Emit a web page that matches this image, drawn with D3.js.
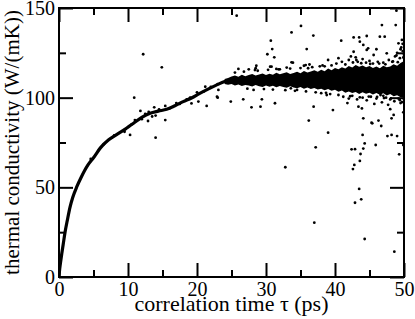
<!DOCTYPE html>
<html><head><meta charset="utf-8">
<script src="https://cdn.jsdelivr.net/npm/d3@7"></script>
<style>
html,body{margin:0;padding:0;background:#fff;}
svg{display:block;}
text{font-family:"Liberation Serif","Times New Roman",serif;fill:#000;}
</style></head>
<body>
<svg id="chart" width="415" height="319"></svg>
<script>
// ---- data ----
const xMajorTicks = [0, 10, 20, 30, 40, 50];
const xMinorTicks = [5, 15, 25, 35, 45];
const yMajorTicks = [0, 50, 100, 150];
const yMinorTicks = [25, 75, 125];
const xLabel = "correlation time τ (ps)";
const yLabel = "thermal conductivity (W/(mK))";

// running-average curve (dense part of the data)
const curveTime  = [0, 0.1, 0.2, 0.4, 0.6, 0.9, 1.2, 1.6, 2.0, 2.6, 3.2, 4.2, 5.0, 6.0, 7.2, 8.4, 9.6, 10.8, 12, 13.2, 14.4, 15.6, 16.8, 18, 19.2, 20.4, 21.6, 22.8, 24, 25, 26, 28, 30, 32, 34, 36, 38, 40, 42, 44, 46, 48, 50];
const curveKappa = [0, 4.5, 7.5, 13, 18, 25.5, 31.5, 39, 44.5, 50.5, 55.5, 62.5, 66.5, 72, 76.5, 79.5, 82.5, 85.7, 89, 91.3, 92.5, 93.5, 95.5, 97.8, 99.8, 102.4, 104.8, 107, 109, 109.8, 110, 110.3, 110.3, 110.5, 110.4, 110.3, 110.2, 110.3, 110.6, 110.7, 110.4, 110, 109.6];

// dense noisy band (upper / lower edge of the black cloud)
const bandTime = [24, 24.5, 25, 25.5, 26, 26.5, 27, 27.5, 28, 28.5, 29, 29.5, 30, 30.5, 31, 31.5, 32, 32.5, 33, 33.5, 34, 34.5, 35, 35.5, 36, 36.5, 37, 37.5, 38, 38.5, 39, 39.5, 40, 40.5, 41, 41.5, 42, 42.5, 43, 43.5, 44, 44.5, 45, 45.5, 46, 46.5, 47, 47.5, 48, 48.5, 49, 49.5, 50];
const bandHigh = [110.4, 111.0, 111.8, 112.4, 111.7, 112.8, 112.0, 112.6, 113.2, 112.3, 112.9, 113.5, 112.6, 113.4, 112.8, 113.9, 113.0, 113.6, 114.2, 113.2, 113.8, 114.5, 113.6, 114.9, 114.0, 114.6, 115.3, 114.4, 115.6, 114.8, 116.2, 115.3, 116.6, 115.8, 117.0, 116.2, 117.6, 116.8, 118.2, 117.2, 118.0, 116.9, 117.6, 116.6, 117.4, 116.4, 117.8, 116.9, 117.4, 118.6, 117.8, 119.4, 120.5];
const bandLow  = [107.6, 107.2, 107.6, 106.8, 107.4, 106.5, 107.1, 106.8, 106.2, 107.0, 106.4, 106.0, 106.8, 106.1, 106.6, 105.8, 106.5, 105.9, 105.5, 106.3, 105.6, 105.2, 105.9, 105.0, 105.6, 104.9, 105.4, 104.5, 105.0, 104.2, 104.8, 103.8, 104.4, 103.3, 104.0, 102.8, 103.5, 102.6, 103.2, 102.0, 103.0, 102.2, 102.8, 101.8, 102.6, 101.6, 102.4, 101.2, 102.0, 100.8, 101.4, 100.2, 100.0];

// individual scattered points
const scatterTime = [
  25.75, 35.07, 33.7, 36.86, 30.7, 30.9, 30.2, 31.2, 35.9, 33.7, 28.6, 28.4, 30.6, 31.5, 40.9, 46.8, 48.8, 48.9,
  42.7, 43.5, 44.6, 46.5, 47.2, 43.6, 44.1, 44.8, 46.0, 47.5, 49.2, 49.7, 42.7, 44.6, 45.6, 48.9, 43.1,
  12.2, 14.9, 10.9, 21.2, 23.1, 26.0, 35.5, 36.3, 37.8, 27.5, 33.0, 28.5, 30.8, 31.8, 33.9, 35.75, 36.1,
  10.3, 14.0, 11.8, 15.4, 21.4, 24.9, 23.0, 11.0, 13.8, 15.4, 12.9, 22.9, 19.2, 20.2,
  28.2, 26.7, 27.9, 29.2, 29.4, 31.3, 33.6, 34.5, 36.9, 36.2, 39.0, 39.7, 38.8,
  43.4, 43.9, 44.1, 45.3, 46.3, 46.8, 48.0, 48.2, 48.5, 44.0, 48.2, 49.0, 49.9, 37.2, 37.0,
  45.4, 46.7, 44.3, 45.9, 42.4, 42.9, 44.1, 43.7, 43.6, 42.8, 42.6, 49.3, 49.9, 43.5, 43.8, 42.9, 44.3, 48.6,
  32.8, 47.6, 47.0, 49.5,
  6.5, 8.0, 9.5, 10.5, 12.0, 12.5, 13.0, 14.0, 14.5, 16.0, 17.0, 18.5, 19.0, 20.0, 21.0, 22.0, 23.0, 17.5, 13.5, 4.6,
  38.5, 39.5, 40.2, 41.0, 41.5, 42.0, 42.3, 43.0, 43.3, 44.0, 44.5, 45.0, 45.5, 46.2, 47.0, 47.8, 48.3, 48.7, 49.0, 49.4, 49.8, 50.0, 49.6, 39.0, 40.5,
  38.0, 39.3, 40.5, 41.2, 42.0, 42.5, 43.2, 44.0, 44.6, 45.2, 46.0, 46.6, 47.4, 48.0, 48.6, 49.2, 49.7, 50.0, 41.8, 45.7, 47.7,
  25.5, 26.8, 27.3, 28.8, 29.7, 30.3, 31.0, 32.0, 32.8, 33.5, 34.2, 35.0, 35.8, 36.7, 37.2, 38.2, 38.7,
  42.6, 43.8, 45.1, 46.4, 47.3, 48.4, 49.1, 49.9, 42.2, 43.6, 44.9, 46.1, 47.1, 48.1, 49.4, 50.0, 49.8, 49.5
];
const scatterKappa = [
  145.7, 140, 136.4, 134.6, 131.8, 127.1, 124.2, 122.5, 127.1, 119.7, 117.8, 115.4, 117.3, 116, 131.8, 140.5, 140.5, 148.5,
  133.6, 133.6, 134.4, 134, 134, 131.2, 129.4, 127.5, 127, 124.7, 130.3, 132.2, 125.6, 126.6, 123.8, 123.5, 121,
  124.2, 116.9, 100, 106.1, 104.3, 116, 117.8, 118.5, 117.5, 115.8, 116.8, 116.4, 117.3, 115.8, 119.5, 118.2, 116.4,
  79.2, 77.7, 92.6, 95.4, 95.4, 97.8, 100, 87.5, 94.6, 87.5, 87, 100.5, 96.8, 97.8,
  104.3, 99.1, 94.6, 95, 99.1, 96.9, 105.2, 104.3, 95, 87.2, 80.5, 93.1, 101.5,
  95, 94, 88.5, 86, 87.2, 97.4, 93.6, 88.5, 90.4, 79.2, 79.2, 78.6, 91.8, 72.3, 30.3,
  85.7, 84.2, 74.5, 73.6, 71.2, 71.3, 71.6, 68.6, 64.7, 62.5, 60.2, 68.4, 73.6, 49.1, 43.3, 41.4, 21.2, 14.1,
  61.2, 78.6, 101, 97,
  74, 79, 81, 85, 88, 91, 92, 90, 93.5, 94, 97, 99, 100, 103, 103.5, 106, 107.5, 96.5, 89.5, 65.8,
  117.5, 118, 119, 120, 118.5, 121, 123, 122.5, 120, 121.5, 119.5, 120.5, 119, 120, 119.5, 121, 120, 123, 125, 122, 126, 124, 128, 121, 122,
  102.5, 102, 101.5, 100.5, 99.5, 101, 99, 100, 98.5, 100.5, 99.5, 101.5, 100, 99, 98, 99.5, 97.5, 99, 97, 96.5, 96,
  114, 114.5, 105, 115, 104.8, 115.5, 104.5, 115.8, 104.2, 116.2, 103.8, 116.5, 103.5, 117, 103, 118, 102.7,
  119.6, 119.2, 118.8, 119.0, 118.6, 120.2, 119.8, 122.4, 100.8, 100.2, 100.6, 100.4, 99.8, 99.6, 98.6, 101.2, 130, 127
];

// ---- drawing ----
const m = {left: 59, right: 404, top: 8, bottom: 277};
const x = d3.scaleLinear().domain([0, 50]).range([m.left, m.right]);
const y = d3.scaleLinear().domain([0, 150]).range([m.bottom, m.top]);
const svg = d3.select("#chart");

svg.append("defs").append("clipPath").attr("id", "clip")
  .append("rect").attr("x", m.left).attr("y", m.top)
  .attr("width", m.right - m.left).attr("height", m.bottom - m.top);
const plot = svg.append("g").attr("clip-path", "url(#clip)");

// band area
const band = bandTime.map((t, i) => ({t, hi: bandHigh[i], lo: bandLow[i]}));
plot.append("path").datum(band)
  .attr("d", d3.area().x(d => x(d.t)).y0(d => y(d.lo)).y1(d => y(d.hi)))
  .attr("fill", "#000");

// curve
const curve = curveTime.map((t, i) => ({t, k: curveKappa[i]}));
plot.append("path").datum(curve)
  .attr("d", d3.line().x(d => x(d.t)).y(d => y(d.k)).curve(d3.curveMonotoneX))
  .attr("fill", "none").attr("stroke", "#000").attr("stroke-width", 3.2)
  .attr("stroke-linejoin", "round").attr("stroke-linecap", "round");

// scatter
const pts = scatterTime.map((t, i) => ({t, k: scatterKappa[i]}));
plot.selectAll("circle").data(pts).join("circle")
  .attr("cx", d => x(d.t)).attr("cy", d => y(d.k)).attr("r", 1.4).attr("fill", "#000");

// axes
function styleAxis(g) {
  g.select(".domain").remove();
  g.selectAll(".tick line").attr("stroke", "#000").attr("stroke-width", 2);
  g.selectAll("text").attr("font-size", 20).attr("font-family", '"Liberation Serif","Times New Roman",serif').attr("fill", "#000");
}
const fmt = d3.format("d");
svg.append("g").attr("transform", `translate(0,${m.bottom})`)
  .call(d3.axisBottom(x).tickValues(xMajorTicks).tickSize(-14).tickPadding(5).tickFormat(fmt)).call(styleAxis);
svg.append("g").attr("transform", `translate(0,${m.bottom})`)
  .call(d3.axisBottom(x).tickValues(xMinorTicks).tickSize(-7).tickFormat("")).call(styleAxis);
svg.append("g").attr("transform", `translate(0,${m.top})`)
  .call(d3.axisTop(x).tickValues(xMajorTicks).tickSize(-14).tickFormat("")).call(styleAxis);
svg.append("g").attr("transform", `translate(0,${m.top})`)
  .call(d3.axisTop(x).tickValues(xMinorTicks).tickSize(-7).tickFormat("")).call(styleAxis);

svg.append("g").attr("transform", `translate(${m.left},0)`)
  .call(d3.axisLeft(y).tickValues(yMajorTicks).tickSize(-14).tickPadding(4).tickFormat(fmt)).call(styleAxis);
svg.append("g").attr("transform", `translate(${m.left},0)`)
  .call(d3.axisLeft(y).tickValues(yMinorTicks).tickSize(-7).tickFormat("")).call(styleAxis);
svg.append("g").attr("transform", `translate(${m.right},0)`)
  .call(d3.axisRight(y).tickValues(yMajorTicks).tickSize(-14).tickFormat("")).call(styleAxis);
svg.append("g").attr("transform", `translate(${m.right},0)`)
  .call(d3.axisRight(y).tickValues(yMinorTicks).tickSize(-7).tickFormat("")).call(styleAxis);

// frame
svg.append("rect").attr("x", m.left).attr("y", m.top)
  .attr("width", m.right - m.left).attr("height", m.bottom - m.top)
  .attr("fill", "none").attr("stroke", "#000").attr("stroke-width", 2);

// titles
svg.append("text").attr("x", (m.left + m.right) / 2).attr("y", 311)
  .attr("text-anchor", "middle").attr("font-size", 22).text(xLabel);
svg.append("text").attr("transform", `translate(19,${(m.top + m.bottom) / 2}) rotate(-90)`)
  .attr("text-anchor", "middle").attr("font-size", 21).text(yLabel);
</script>
</body></html>
